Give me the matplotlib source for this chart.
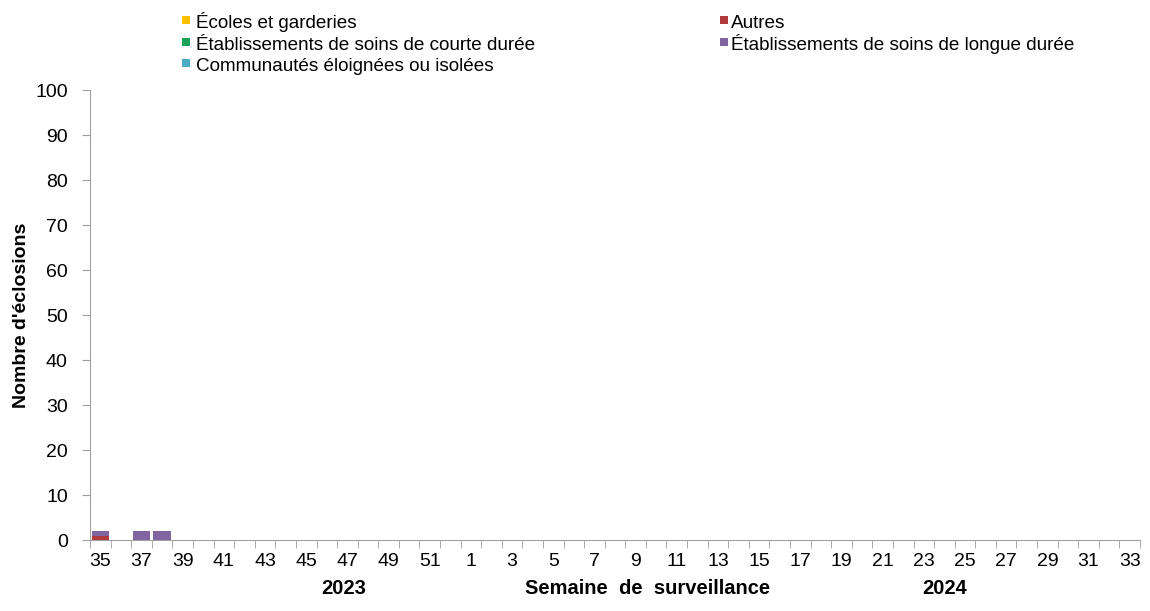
import numpy as np
import matplotlib.pyplot as plt
import matplotlib.transforms as mtransforms
from matplotlib.patches import Rectangle

plt.rcParams['font.family'] = ['Liberation Sans', 'DejaVu Sans']

weeks = list(range(35, 53)) + list(range(1, 34))
n = len(weeks)

def series(points):
    vals = [0] * n
    for wk, v in points:
        vals[weeks.index(wk)] = v
    return vals

ecoles = series([])
autres = series([(35, 1)])
courte = series([])
longue = series([(35, 1), (37, 2), (38, 2)])
communautes = series([])

labels = ['Écoles et garderies', 'Autres',
          'Établissements de soins de courte durée',
          'Établissements de soins de longue durée',
          'Communautés éloignées ou isolées']
colors = ['#FFC000', '#B03A3A', '#1AA35A', '#8064A2', '#4BACC6']
data = [ecoles, autres, courte, longue, communautes]

W, H = 1150, 611
fig = plt.figure(figsize=(W / 100, H / 100), dpi=100)
ax = fig.add_axes([0.0783, 0.1162, 0.913, 0.7365])

x = np.arange(n)
bottom = np.zeros(n)
for vals, c in zip(data, colors):
    ax.bar(x, vals, bottom=bottom, width=0.85, color=c, linewidth=0)
    bottom += np.array(vals)

ax.set_xlim(-0.5, n - 0.5)
ax.set_ylim(0, 100)
ax.set_yticks(range(0, 101, 10))
ax.set_xticks(x[::2])
ax.set_xticklabels([str(w) for w in weeks[::2]])
ax.set_xticks(np.arange(-0.5, n, 1), minor=True)
ax.tick_params(axis='x', which='major', length=0, labelsize=14, pad=9)
ax.tick_params(axis='x', which='minor', length=6, color='#A0A0A0')
ax.tick_params(axis='y', length=6, color='#A0A0A0', labelsize=14, pad=10)
for s in ['top', 'right']:
    ax.spines[s].set_visible(False)
for s in ['left', 'bottom']:
    ax.spines[s].set_color('#A0A0A0')

ax.set_ylabel("Nombre d'éclosions", fontsize=14, fontweight='bold', labelpad=4)

trans = mtransforms.blended_transform_factory(ax.transData, ax.transAxes)
ax.text(11.8, -0.107, '2023', transform=trans, ha='center', va='center',
        fontsize=14.5, fontweight='bold')
ax.text(26.6, -0.107, 'Semaine  de  surveillance', transform=trans, ha='center',
        va='center', fontsize=14.5, fontweight='bold')
ax.text(41.0, -0.107, '2024', transform=trans, ha='center', va='center',
        fontsize=14.5, fontweight='bold')

# legend drawn by hand, two columns read row by row (pixel positions)
leg_marks = [182, 720]
leg_texts = [196, 731]
leg_rows = [28, 49.6, 71.2]
for i, (lab, c) in enumerate(zip(labels, colors)):
    col, row = i % 2, i // 2
    yb = leg_rows[row]
    fig.add_artist(Rectangle((leg_marks[col] / W, 1 - (yb - 4) / H), 8 / W, 8 / H,
                             transform=fig.transFigure, color=c, lw=0))
    fig.text(leg_texts[col] / W, 1 - yb / H, lab, fontsize=13.6, va='baseline',
             ha='left')

fig.savefig('out.png', dpi=100)
